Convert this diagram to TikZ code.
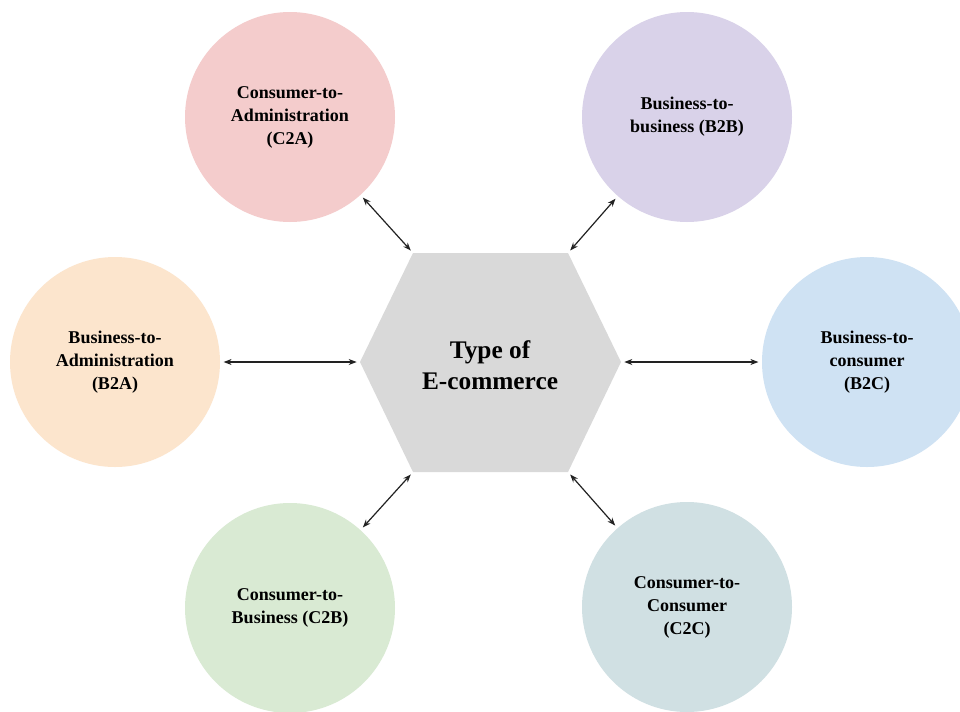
\documentclass[tikz,border=0pt]{standalone}
\usepackage{fontspec}
\setmainfont{Liberation Serif}
\usetikzlibrary{arrows.meta}
\definecolor{cpink}{HTML}{F4CCCC}
\definecolor{clav}{HTML}{D9D2E9}
\definecolor{corange}{HTML}{FCE5CD}
\definecolor{cblue}{HTML}{CFE2F3}
\definecolor{cgreen}{HTML}{D9EAD3}
\definecolor{cteal}{HTML}{D0E0E3}
\definecolor{chex}{HTML}{D9D9D9}
\definecolor{carrow}{HTML}{222222}
\begin{document}
\begin{tikzpicture}[x=0.75pt,y=-0.75pt,
  typecircle/.style={circle, draw=none, minimum size=157.5pt, inner sep=0pt, align=center,
    font=\bfseries\fontsize{13.5}{17.25}\selectfont},
  hextext/.style={align=center, font=\bfseries\fontsize{19}{23}\selectfont},
  link/.style={{Stealth[length=6pt,width=4.5pt]}-{Stealth[length=6pt,width=4.5pt]}, line width=0.9pt, draw=carrow,
    shorten <=2.5pt, shorten >=2.5pt}]
\useasboundingbox (0,0) rectangle (960,711);
\clip (0,0) rectangle (960,711);
\fill[white] (0,0) rectangle (960,711);
% hexagon
\coordinate (hl) at (360,362);
\coordinate (htl) at (413,253);
\coordinate (htr) at (568,253);
\coordinate (hr) at (621,362);
\coordinate (hbr) at (568,472);
\coordinate (hbl) at (413,472);
\fill[chex] (hl) -- (htl) -- (htr) -- (hr) -- (hbr) -- (hbl) -- cycle;
\node[hextext] (center) at (490,365) {Type of\\E-commerce};
% circles
\node[typecircle, fill=cpink] (c2a) at (290,117) {Consumer-to-\\Administration\\(C2A)};
\node[typecircle, fill=clav] (b2b) at (687,117) {Business-to-\\business (B2B)};
\node[typecircle, fill=corange] (b2a) at (115,362) {Business-to-\\Administration\\(B2A)};
\node[typecircle, fill=cblue] (b2c) at (867,362) {Business-to-\\consumer\\(B2C)};
\node[typecircle, fill=cgreen] (c2b) at (290,608) {Consumer-to-\\Business (C2B)};
\node[typecircle, fill=cteal] (c2c) at (687,607) {Consumer-to-\\Consumer\\(C2C)};
% connectors
\draw[link] (c2a) -- (htl);
\draw[link] (b2b) -- (htr);
\draw[link] (b2a) -- (hl);
\draw[link] (b2c) -- (hr);
\draw[link] (c2b) -- (hbl);
\draw[link] (c2c) -- (hbr);
\end{tikzpicture}
\end{document}
